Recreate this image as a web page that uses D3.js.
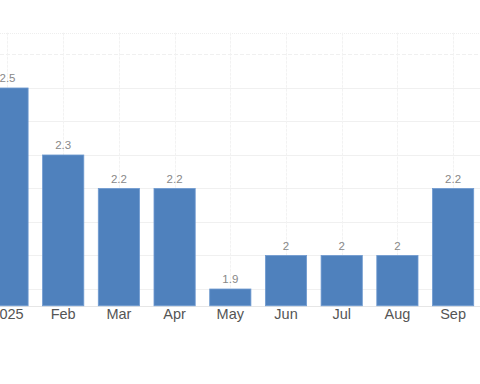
<!DOCTYPE html>
<html><head><meta charset="utf-8">
<script src="https://cdn.jsdelivr.net/npm/d3@7"></script>
<style>body{margin:0;background:#fff}svg{display:block}</style>
</head><body>
<svg id="c" width="480" height="384"></svg>
<script>
const categories = ["2025","Feb","Mar","Apr","May","Jun","Jul","Aug","Sep"];
const values = [2.5,2.3,2.2,2.2,1.9,2.0,2.0,2.0,2.2];
const valueLabels = ["2.5","2.3","2.2","2.2","1.9","2","2","2","2.2"];
const yTicks = [1.9,2.0,2.1,2.2,2.3,2.4,2.5,2.6];

(function(){
const svg = d3.select("#c");
const W = 480;
const plotTop = 32.7, plotBottom = 305.75;
const x = d3.scaleBand().domain(categories).range([-20.35, 480.95]).paddingInner(0.26).paddingOuter(0.13);
const y = d3.scaleLinear().domain([1.85, 2.665]).range([plotBottom, plotTop]);

const g = svg.append("g");
g.selectAll("line.h").data(yTicks).enter().append("line")
  .attr("x1",0).attr("x2",W)
  .attr("y1",d=>Math.round(y(d))+0.5).attr("y2",d=>Math.round(y(d))+0.5)
  .attr("stroke","#f0f0f0").attr("stroke-width",1)
  .attr("stroke-dasharray",d=>d>=2.6?"4,2":null);
g.append("line").attr("x1",0).attr("x2",W).attr("y1",Math.round(plotTop)+0.5).attr("y2",Math.round(plotTop)+0.5)
  .attr("stroke","#eeeeee").attr("stroke-dasharray","1,1");
g.selectAll("line.v").data(categories).enter().append("line")
  .attr("x1",d=>Math.round(x(d)+x.bandwidth()/2)+0.5).attr("x2",d=>Math.round(x(d)+x.bandwidth()/2)+0.5)
  .attr("y1",plotTop).attr("y2",plotBottom)
  .attr("stroke","#f2f2f2").attr("stroke-dasharray","3,1");
g.append("line").attr("x1",0).attr("x2",W).attr("y1",Math.round(plotBottom)+0.5).attr("y2",Math.round(plotBottom)+0.5)
  .attr("stroke","#e6e6e6");

g.selectAll("rect").data(values).enter().append("rect")
  .attr("x",(d,i)=>x(categories[i]))
  .attr("width",x.bandwidth())
  .attr("y",d=>y(d))
  .attr("height",d=>plotBottom-y(d))
  .attr("fill","#4f81bd").attr("stroke","#6f9ad0").attr("stroke-width",0.8);

g.selectAll("text.v").data(values).enter().append("text")
  .attr("x",(d,i)=>x(categories[i])+x.bandwidth()/2)
  .attr("y",d=>y(d)-5.7)
  .attr("text-anchor","middle")
  .attr("font-family","Arial, 'Liberation Sans', sans-serif").attr("font-size",11.5)
  .attr("fill","#888")
  .text((d,i)=>valueLabels[i]);

const xAxis = d3.axisBottom(x).tickSize(0).tickPadding(0);
const ax = svg.append("g").attr("transform",`translate(0,${plotBottom})`).call(xAxis);
ax.select(".domain").remove();
ax.attr("font-family",null).attr("font-size",null);
ax.selectAll("text").attr("dy",null).attr("y",13.5)
  .attr("font-family","Arial, 'Liberation Sans', sans-serif").attr("font-size",14.5)
  .attr("fill","#555");
})();
</script>
</body></html>
